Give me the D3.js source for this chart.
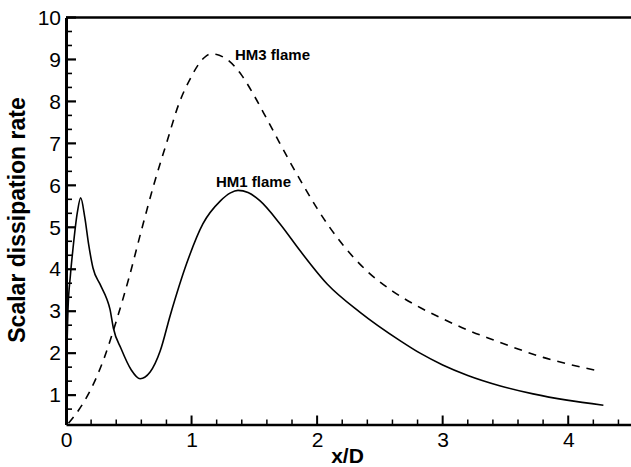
<!DOCTYPE html>
<html>
<head>
<meta charset="utf-8">
<script src="https://cdn.jsdelivr.net/npm/d3@7"></script>
<style>
  html, body { margin: 0; padding: 0; background: #fff; }
  svg { display: block; font-family: Arial, "Liberation Sans", sans-serif; }
</style>
</head>
<body>
<svg id="chart" width="631" height="467"></svg>
<script>
// Scalar dissipation rate along the axis, HM1 flame (solid)
const hm1X = [0.0, 0.005, 0.01, 0.016, 0.035, 0.056, 0.09, 0.117, 0.15, 0.18, 0.215, 0.27, 0.325, 0.35, 0.377, 0.44, 0.52, 0.59, 0.67, 0.75, 0.83, 0.96, 1.09, 1.23, 1.31, 1.37, 1.45, 1.546, 1.705, 1.865, 2.08, 2.34, 2.66, 2.82, 3.0, 3.2, 3.46, 3.72, 3.99, 4.28];
const hm1Y = [0.35, 1.5, 2.4, 3.05, 3.85, 4.5, 5.35, 5.7, 5.23, 4.6, 4.03, 3.65, 3.29, 3.05, 2.6, 2.1, 1.6, 1.39, 1.55, 2.05, 2.9, 4.13, 5.08, 5.63, 5.82, 5.88, 5.83, 5.63, 5.08, 4.44, 3.65, 2.98, 2.3, 2.0, 1.72, 1.47, 1.22, 1.03, 0.88, 0.76];

// HM3 flame (dashed)
const hm3X = [0.02, 0.1, 0.2, 0.3, 0.4, 0.5, 0.6, 0.7, 0.8, 0.9, 1.0, 1.05, 1.1, 1.15, 1.2, 1.25, 1.3, 1.4, 1.5, 1.6, 1.7, 1.8, 1.9, 2.0, 2.2, 2.4, 2.6, 2.8, 3.0, 3.2, 3.4, 3.6, 3.8, 4.0, 4.25];
const hm3Y = [0.33, 0.64, 1.15, 1.85, 2.76, 3.78, 4.92, 6.02, 7.0, 7.95, 8.6, 8.86, 9.04, 9.13, 9.12, 9.06, 8.96, 8.62, 8.13, 7.58, 7.02, 6.47, 5.95, 5.45, 4.6, 3.95, 3.48, 3.12, 2.82, 2.55, 2.32, 2.1, 1.9, 1.74, 1.57];

const xTicks = [0, 1, 2, 3, 4];
const yTicks = [1, 2, 3, 4, 5, 6, 7, 8, 9, 10];
const seriesLabels = ["HM1 flame", "HM3 flame"];
const xTitle = "x/D";
const yTitle = "Scalar dissipation rate";

const svg = d3.select("#chart");
const plotLeft = 66, plotRight = 631, plotTop = 17.5, plotBottom = 424.5;

const x = d3.scaleLinear().domain([0, 4.5]).range([plotLeft, plotRight]);
const y = d3.scaleLinear().domain([0.3, 10]).range([plotBottom, plotTop]);

// minor tick positions
const xMinor = d3.range(1, 23).map(k => k / 5).filter(v => Math.abs(v - Math.round(v)) > 1e-6);
const yMinor = d3.range(2, 30).map(k => k / 3).filter(v => Math.abs(v - Math.round(v)) > 1e-6);

// curves
const line = d3.line().x(d => x(d[0])).y(d => y(d[1])).curve(d3.curveMonotoneX);
svg.append("path")
  .attr("d", line(d3.zip(hm1X, hm1Y)))
  .attr("fill", "none").attr("stroke", "#000").attr("stroke-width", 1.6);
svg.append("path")
  .attr("d", line(d3.zip(hm3X, hm3Y)))
  .attr("fill", "none").attr("stroke", "#000").attr("stroke-width", 1.6)
  .attr("stroke-dasharray", "8,7");

// bottom axis (labels + baseline)
const xAxis = d3.axisBottom(x).tickValues(xTicks).tickSize(0).tickPadding(8).tickFormat(d3.format("d"));
const gx = svg.append("g").attr("transform", `translate(0,${plotBottom})`).call(xAxis);
gx.select(".domain").attr("stroke", "#000").attr("stroke-width", 2.5);
gx.selectAll(".tick text").attr("font-size", 21).attr("fill", "#000")
  .attr("font-family", "Arial, 'Liberation Sans', sans-serif");

// left axis (labels + baseline)
const yAxis = d3.axisLeft(y).tickValues(yTicks).tickSize(0).tickPadding(5).tickFormat(d3.format("d"));
const gy = svg.append("g").attr("transform", `translate(${plotLeft},0)`).call(yAxis);
gy.select(".domain").attr("stroke", "#000").attr("stroke-width", 3);
gy.selectAll(".tick text").attr("font-size", 21).attr("fill", "#000")
  .attr("font-family", "Arial, 'Liberation Sans', sans-serif");

// inward tick marks
const tickG = svg.append("g").attr("stroke", "#000");
tickG.selectAll("line.xmaj").data(xTicks).enter().append("line").attr("class", "xmaj")
  .attr("x1", d => x(d)).attr("x2", d => x(d)).attr("y1", plotBottom).attr("y2", plotBottom - 9)
  .attr("stroke-width", 2);
tickG.selectAll("line.xmin").data(xMinor).enter().append("line").attr("class", "xmin")
  .attr("x1", d => x(d)).attr("x2", d => x(d)).attr("y1", plotBottom).attr("y2", plotBottom - 5)
  .attr("stroke-width", 1.5);
tickG.selectAll("line.ymaj").data(yTicks).enter().append("line").attr("class", "ymaj")
  .attr("x1", plotLeft).attr("x2", plotLeft + 10).attr("y1", d => y(d)).attr("y2", d => y(d))
  .attr("stroke-width", 2.2);
tickG.selectAll("line.ymin").data(yMinor).enter().append("line").attr("class", "ymin")
  .attr("x1", plotLeft).attr("x2", plotLeft + 6).attr("y1", d => y(d)).attr("y2", d => y(d))
  .attr("stroke-width", 1.6);

// top frame line
svg.append("line")
  .attr("x1", x(0)).attr("x2", plotRight).attr("y1", y(10)).attr("y2", y(10))
  .attr("stroke", "#000").attr("stroke-width", 2.5);

// curve labels
svg.append("text").attr("x", 216).attr("y", 187)
  .attr("font-size", 15).attr("font-weight", "bold").text(seriesLabels[0]);
svg.append("text").attr("x", 235).attr("y", 60)
  .attr("font-size", 15).attr("font-weight", "bold").text(seriesLabels[1]);

// axis titles
svg.append("text").attr("x", 347.5).attr("y", 463).attr("text-anchor", "middle")
  .attr("font-size", 21).attr("font-weight", "bold").text(xTitle);
svg.append("text").attr("transform", "translate(25,220) rotate(-90)").attr("text-anchor", "middle")
  .attr("font-size", 23).attr("font-weight", "bold").text(yTitle);
</script>
</body>
</html>
